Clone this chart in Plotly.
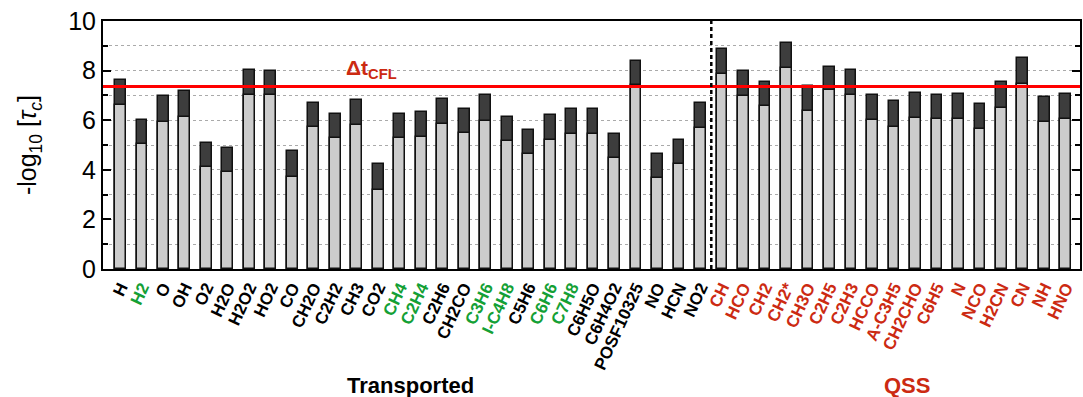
import plotly.graph_objects as go

# Species (transported first, then quasi-steady-state)
species = ["H", "H2", "O", "OH", "O2", "H2O", "H2O2", "HO2", "CO", "CH2O",
           "C2H2", "CH3", "CO2", "CH4", "C2H4", "C2H6", "CH2CO", "C3H6",
           "I-C4H8", "C5H6", "C6H6", "C7H8", "C6H5O", "C6H4O2", "POSF10325",
           "NO", "HCN", "NO2",
           "CH", "HCO", "CH2", "CH2*", "CH3O", "C2H5", "C2H3", "HCCO",
           "A-C3H5", "CH2CHO", "C6H5", "N", "NCO", "H2CN", "CN", "NH", "HNO"]

# -log10 of the chemical time scale: lower and upper bounds
tau_low = [6.62, 5.03, 5.94, 6.14, 4.10, 3.92, 7.00, 7.00, 3.71, 5.71,
           5.28, 5.79, 3.18, 5.27, 5.32, 5.84, 5.49, 5.98,
           5.16, 4.64, 5.21, 5.45, 5.45, 4.49, 7.42,
           3.66, 4.25, 5.69,
           7.86, 6.96, 6.57, 8.10, 6.38, 7.20, 7.00, 5.99,
           5.73, 6.08, 6.03, 6.03, 5.64, 6.51, 7.48, 5.92, 6.03]
tau_high = [7.64, 5.99, 6.97, 7.17, 5.08, 4.89, 8.02, 7.98, 4.75, 6.71,
            6.27, 6.82, 4.22, 6.27, 6.33, 6.86, 6.47, 7.01,
            6.14, 5.60, 6.23, 6.47, 6.47, 5.45, 8.40,
            4.64, 5.21, 6.71,
            8.88, 7.97, 7.54, 9.12, 7.37, 8.16, 8.01, 7.01,
            6.77, 7.10, 7.00, 7.05, 6.66, 7.54, 8.51, 6.92, 7.05]

n_transported = 28
green_species = ["H2", "CH4", "C2H4", "C3H6", "I-C4H8", "C6H6", "C7H8"]
dt_cfl = 7.36

y_ticks = [0, 2, 4, 6, 8, 10]

BLACK = "#000000"
GREEN = "#14a035"
RED = "#cc2a12"

def label_color(i, name):
    if i >= n_transported:
        return RED
    if name in green_species:
        return GREEN
    return BLACK

xpos = list(range(len(species)))
ticktext = [f"<b><span style='color:{label_color(i, s)}'>{s}</span></b>"
            for i, s in enumerate(species)]

fig = go.Figure()
fig.add_trace(go.Bar(
    x=xpos, y=tau_high, width=0.5,
    marker=dict(color="#3d3d3d", line=dict(color="#111111", width=1.5)),
    showlegend=False, hoverinfo="skip",
))
fig.add_trace(go.Bar(
    x=xpos, y=tau_low, width=0.5,
    marker=dict(color="#cccccc", line=dict(color="#111111", width=1.5)),
    showlegend=False, hoverinfo="skip",
))

# CFL time step
fig.add_shape(type="line", xref="paper", x0=0, x1=1, yref="y",
              y0=dt_cfl, y1=dt_cfl, line=dict(color="#ff0000", width=3),
              layer="above")
# separator between transported and QSS species
fig.add_shape(type="line", xref="x", x0=n_transported - 0.5,
              x1=n_transported - 0.5, yref="paper", y0=0, y1=1,
              line=dict(color="black", width=2.5, dash="4px,3px"),
              layer="above")

fig.add_annotation(x=11.7, y=8.05, xref="x", yref="y",
                   text="<b>Δt<sub>CFL</sub></b>", showarrow=False,
                   font=dict(family="Liberation Sans", size=21, color=RED))
fig.add_annotation(x=13.5, y=-0.53, xref="x", yref="paper",
                   text="<b>Transported</b>", showarrow=False,
                   font=dict(family="Liberation Sans", size=22, color="black"))
fig.add_annotation(x=36.6, y=-0.53, xref="x", yref="paper",
                   text="<b>QSS</b>", showarrow=False,
                   font=dict(family="Liberation Sans", size=22, color=RED))

fig.update_layout(
    width=1083, height=397,
    margin=dict(l=103, r=1, t=21, b=128),
    paper_bgcolor="white", plot_bgcolor="white",
    barmode="overlay", bargap=0,
    font=dict(family="Liberation Sans", color="black"),
    xaxis=dict(
        range=[-0.81, 44.66], tickmode="array", tickvals=xpos,
        ticktext=ticktext, tickangle=-65,
        tickfont=dict(family="Liberation Sans", size=17),
        showgrid=False, zeroline=False, ticks="",
        showline=True, linecolor="black", linewidth=2, mirror=True,
    ),
    yaxis=dict(
        range=[0, 10], tickmode="array", tickvals=y_ticks,
        tickfont=dict(family="Liberation Sans", size=25),
        ticks="inside", ticklen=8, tickwidth=2, tickcolor="black",
        showline=True, linecolor="black", linewidth=2, mirror="ticks",
        showgrid=True, gridcolor="#aaaaaa", gridwidth=1, griddash="dot",
        zeroline=False,
        minor=dict(dtick=1, ticks="inside", ticklen=5, tickwidth=2,
                   tickcolor="black", showgrid=True, gridcolor="#aaaaaa",
                   gridwidth=1, griddash="dot"),
        title=dict(text="-log<sub>10</sub> [<i>τ<sub>c</sub></i>]",
                   font=dict(family="Liberation Sans", size=25),
                   standoff=24),
    ),
)

fig.write_html("out.html")
